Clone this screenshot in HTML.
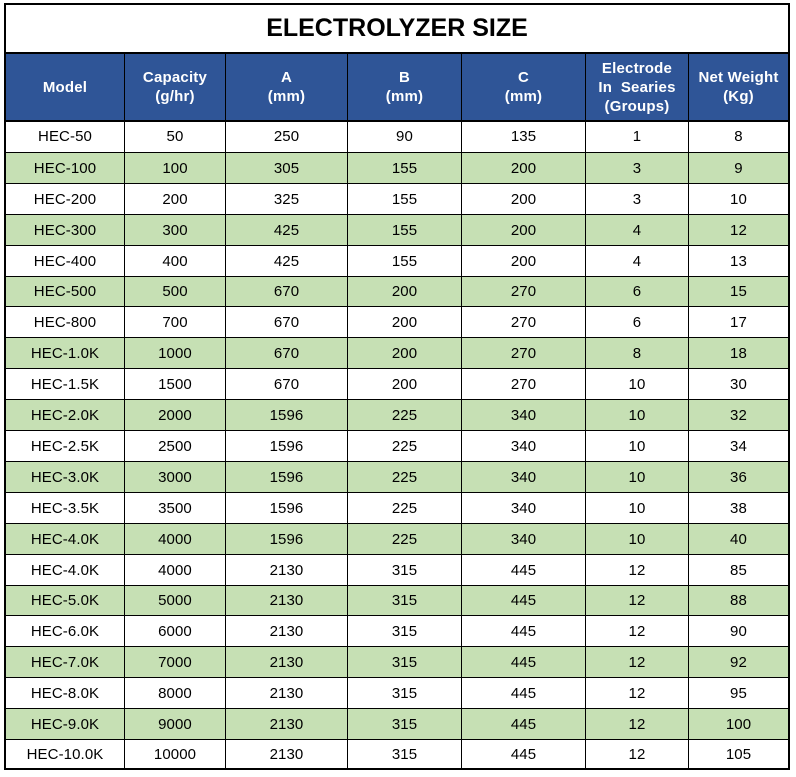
<!DOCTYPE html>
<html>
<head>
<meta charset="utf-8">
<style>
html,body{margin:0;padding:0;background:#fff;}
body{width:796px;height:777px;position:relative;overflow:hidden;font-family:"Liberation Sans",Arial,sans-serif;}
.abs{position:absolute;}
.box{left:4px;top:3px;width:786px;height:767px;border:2px solid #000;box-sizing:border-box;}
.title{left:6px;top:5px;width:782px;height:47px;display:flex;align-items:center;justify-content:center;font-weight:bold;font-size:25px;color:#000;}
.hdr{left:6px;top:54px;width:782px;height:66px;background:#2F5597;}
.hline{left:6px;width:782px;height:2px;background:#000;}
.row{left:6px;width:782px;border-top:1px solid #000;box-sizing:border-box;}
.g{background:#C6E0B4;}
.vl{width:1px;top:53px;height:716px;background:#000;}
.cell{position:absolute;top:0;height:100%;display:flex;align-items:center;justify-content:center;font-size:15px;letter-spacing:0.1px;color:#000;}
.hc{position:absolute;top:0;height:66px;display:flex;align-items:center;justify-content:center;text-align:center;font-weight:bold;font-size:15px;letter-spacing:0.2px;line-height:19px;color:#fff;}
.c0{left:0;width:118px;}
.c1{left:119px;width:100px;}
.c2{left:220px;width:121px;}
.c3{left:342px;width:113px;}
.c4{left:456px;width:123px;}
.c5{left:580px;width:102px;}
.c6{left:683px;width:99px;}
</style>
</head>
<body>
<div class="abs title">ELECTROLYZER SIZE</div>
<div class="abs hdr">
  <div class="hc c0">Model</div>
  <div class="hc c1">Capacity<br>(g/hr)</div>
  <div class="hc c2">A<br>(mm)</div>
  <div class="hc c3">B<br>(mm)</div>
  <div class="hc c4">C<br>(mm)</div>
  <div class="hc c5">Electrode<br>In&nbsp; Searies<br>(Groups)</div>
  <div class="hc c6">Net Weight<br>(Kg)</div>
</div>

<div class="abs row" style="top:121px;height:31px;border-top:none;"><div class="cell c0">HEC-50</div><div class="cell c1">50</div><div class="cell c2">250</div><div class="cell c3">90</div><div class="cell c4">135</div><div class="cell c5">1</div><div class="cell c6">8</div></div>
<div class="abs row g" style="top:152px;height:31px;"><div class="cell c0">HEC-100</div><div class="cell c1">100</div><div class="cell c2">305</div><div class="cell c3">155</div><div class="cell c4">200</div><div class="cell c5">3</div><div class="cell c6">9</div></div>
<div class="abs row" style="top:183px;height:31px;"><div class="cell c0">HEC-200</div><div class="cell c1">200</div><div class="cell c2">325</div><div class="cell c3">155</div><div class="cell c4">200</div><div class="cell c5">3</div><div class="cell c6">10</div></div>
<div class="abs row g" style="top:214px;height:31px;"><div class="cell c0">HEC-300</div><div class="cell c1">300</div><div class="cell c2">425</div><div class="cell c3">155</div><div class="cell c4">200</div><div class="cell c5">4</div><div class="cell c6">12</div></div>
<div class="abs row" style="top:245px;height:31px;"><div class="cell c0">HEC-400</div><div class="cell c1">400</div><div class="cell c2">425</div><div class="cell c3">155</div><div class="cell c4">200</div><div class="cell c5">4</div><div class="cell c6">13</div></div>
<div class="abs row g" style="top:276px;height:30px;"><div class="cell c0">HEC-500</div><div class="cell c1">500</div><div class="cell c2">670</div><div class="cell c3">200</div><div class="cell c4">270</div><div class="cell c5">6</div><div class="cell c6">15</div></div>
<div class="abs row" style="top:306px;height:31px;"><div class="cell c0">HEC-800</div><div class="cell c1">700</div><div class="cell c2">670</div><div class="cell c3">200</div><div class="cell c4">270</div><div class="cell c5">6</div><div class="cell c6">17</div></div>
<div class="abs row g" style="top:337px;height:31px;"><div class="cell c0">HEC-1.0K</div><div class="cell c1">1000</div><div class="cell c2">670</div><div class="cell c3">200</div><div class="cell c4">270</div><div class="cell c5">8</div><div class="cell c6">18</div></div>
<div class="abs row" style="top:368px;height:31px;"><div class="cell c0">HEC-1.5K</div><div class="cell c1">1500</div><div class="cell c2">670</div><div class="cell c3">200</div><div class="cell c4">270</div><div class="cell c5">10</div><div class="cell c6">30</div></div>
<div class="abs row g" style="top:399px;height:31px;"><div class="cell c0">HEC-2.0K</div><div class="cell c1">2000</div><div class="cell c2">1596</div><div class="cell c3">225</div><div class="cell c4">340</div><div class="cell c5">10</div><div class="cell c6">32</div></div>
<div class="abs row" style="top:430px;height:31px;"><div class="cell c0">HEC-2.5K</div><div class="cell c1">2500</div><div class="cell c2">1596</div><div class="cell c3">225</div><div class="cell c4">340</div><div class="cell c5">10</div><div class="cell c6">34</div></div>
<div class="abs row g" style="top:461px;height:31px;"><div class="cell c0">HEC-3.0K</div><div class="cell c1">3000</div><div class="cell c2">1596</div><div class="cell c3">225</div><div class="cell c4">340</div><div class="cell c5">10</div><div class="cell c6">36</div></div>
<div class="abs row" style="top:492px;height:31px;"><div class="cell c0">HEC-3.5K</div><div class="cell c1">3500</div><div class="cell c2">1596</div><div class="cell c3">225</div><div class="cell c4">340</div><div class="cell c5">10</div><div class="cell c6">38</div></div>
<div class="abs row g" style="top:523px;height:31px;"><div class="cell c0">HEC-4.0K</div><div class="cell c1">4000</div><div class="cell c2">1596</div><div class="cell c3">225</div><div class="cell c4">340</div><div class="cell c5">10</div><div class="cell c6">40</div></div>
<div class="abs row" style="top:554px;height:31px;"><div class="cell c0">HEC-4.0K</div><div class="cell c1">4000</div><div class="cell c2">2130</div><div class="cell c3">315</div><div class="cell c4">445</div><div class="cell c5">12</div><div class="cell c6">85</div></div>
<div class="abs row g" style="top:585px;height:30px;"><div class="cell c0">HEC-5.0K</div><div class="cell c1">5000</div><div class="cell c2">2130</div><div class="cell c3">315</div><div class="cell c4">445</div><div class="cell c5">12</div><div class="cell c6">88</div></div>
<div class="abs row" style="top:615px;height:31px;"><div class="cell c0">HEC-6.0K</div><div class="cell c1">6000</div><div class="cell c2">2130</div><div class="cell c3">315</div><div class="cell c4">445</div><div class="cell c5">12</div><div class="cell c6">90</div></div>
<div class="abs row g" style="top:646px;height:31px;"><div class="cell c0">HEC-7.0K</div><div class="cell c1">7000</div><div class="cell c2">2130</div><div class="cell c3">315</div><div class="cell c4">445</div><div class="cell c5">12</div><div class="cell c6">92</div></div>
<div class="abs row" style="top:677px;height:31px;"><div class="cell c0">HEC-8.0K</div><div class="cell c1">8000</div><div class="cell c2">2130</div><div class="cell c3">315</div><div class="cell c4">445</div><div class="cell c5">12</div><div class="cell c6">95</div></div>
<div class="abs row g" style="top:708px;height:31px;"><div class="cell c0">HEC-9.0K</div><div class="cell c1">9000</div><div class="cell c2">2130</div><div class="cell c3">315</div><div class="cell c4">445</div><div class="cell c5">12</div><div class="cell c6">100</div></div>
<div class="abs row" style="top:739px;height:30px;"><div class="cell c0">HEC-10.0K</div><div class="cell c1">10000</div><div class="cell c2">2130</div><div class="cell c3">315</div><div class="cell c4">445</div><div class="cell c5">12</div><div class="cell c6">105</div></div>

<div class="abs vl" style="left:124px;"></div>
<div class="abs vl" style="left:225px;"></div>
<div class="abs vl" style="left:347px;"></div>
<div class="abs vl" style="left:461px;"></div>
<div class="abs vl" style="left:585px;"></div>
<div class="abs vl" style="left:688px;"></div>

<div class="abs hline" style="top:52px;"></div>
<div class="abs hline" style="top:120px;"></div>
<div class="abs box"></div>
</body>
</html>
